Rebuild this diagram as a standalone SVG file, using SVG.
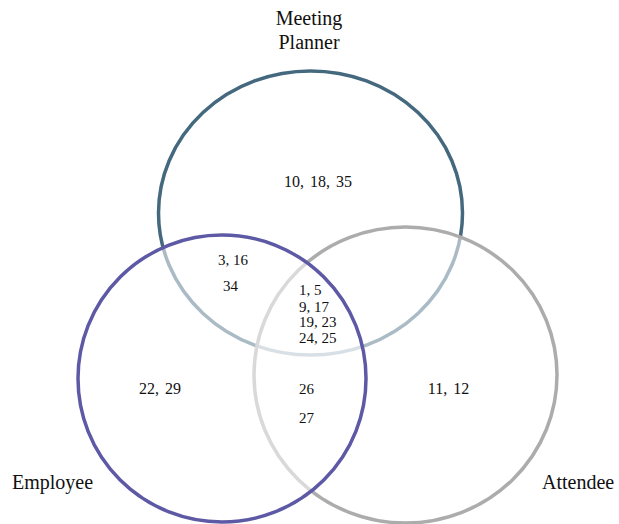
<svg xmlns="http://www.w3.org/2000/svg" width="619" height="524" viewBox="0 0 619 524">
  <style>
    .set { stroke-width: 3.5; }
    .veil { fill: #ffffff; fill-opacity: 0.55; }
    .label { font-family: "Liberation Serif", "Times New Roman", serif; font-size: 20px; fill: #111; }
    .num { font-family: "Liberation Serif", "Times New Roman", serif; font-size: 16px; fill: #111; }
    .num-sm { font-family: "Liberation Serif", "Times New Roman", serif; font-size: 15px; fill: #111; }
  </style>
  <rect width="619" height="524" fill="#ffffff"/>

  <!-- Meeting Planner set (drawn first, lightened by the sets above it) -->
  <g id="meeting-planner">
    <ellipse class="set" cx="310.5" cy="213" rx="152" ry="142" fill="none" stroke="#44697f"/>
    <text class="label" x="309" y="25" text-anchor="middle">Meeting</text>
    <text class="label" x="309" y="49" text-anchor="middle">Planner</text>
  </g>

  <!-- Attendee set -->
  <g id="attendee">
    <ellipse class="veil" cx="405.5" cy="375" rx="151.5" ry="148"/>
    <ellipse class="set" cx="405.5" cy="375" rx="151.5" ry="148" fill="none" stroke="#acacac"/>
    <text class="label" x="542" y="489">Attendee</text>
  </g>

  <!-- Employee set -->
  <g id="employee">
    <ellipse class="veil" cx="222" cy="378.5" rx="144" ry="143.5"/>
    <ellipse class="set" cx="222" cy="378.5" rx="144" ry="143.5" fill="none" stroke="#5d59a5"/>
    <text class="label" x="12" y="489">Employee</text>
  </g>

  <!-- region members -->
  <g id="regions">
    <text class="num" x="318" y="187" text-anchor="middle" word-spacing="2">10, 18, 35</text>
    <text class="num-sm" x="218" y="265">3, 16</text>
    <text class="num-sm" x="223" y="291">34</text>
    <text class="num-sm" x="299" y="295">1, 5</text>
    <text class="num-sm" x="299" y="312">9, 17</text>
    <text class="num-sm" x="299" y="327">19, 23</text>
    <text class="num-sm" x="299" y="343">24, 25</text>
    <text class="num" x="160" y="394" text-anchor="middle" word-spacing="2">22, 29</text>
    <text class="num-sm" x="299" y="394">26</text>
    <text class="num-sm" x="299" y="423">27</text>
    <text class="num" x="448.5" y="394" text-anchor="middle" word-spacing="2">11, 12</text>
  </g>
</svg>
